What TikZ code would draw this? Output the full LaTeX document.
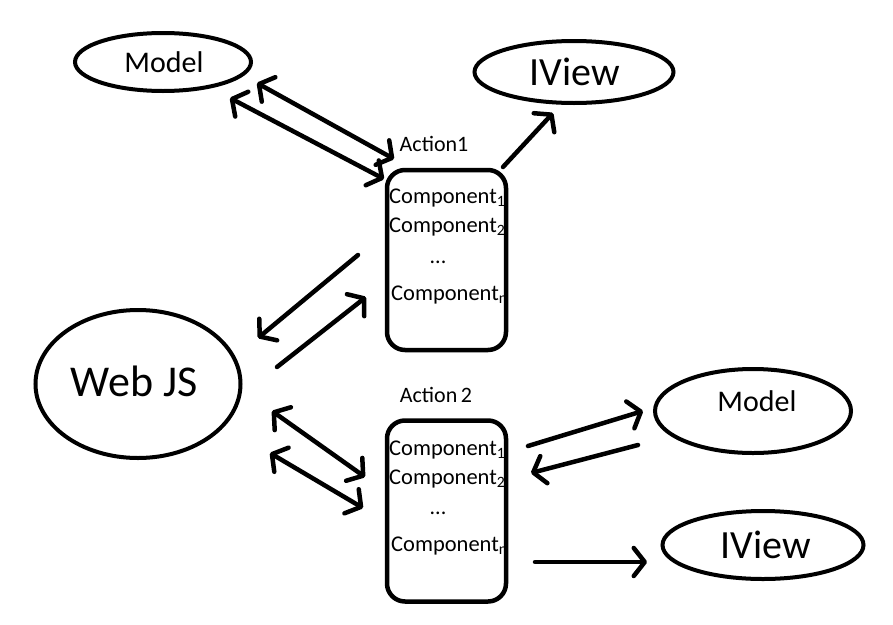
\documentclass[tikz,border=0pt]{standalone}
\usepackage{fontspec}
\setmainfont{Carlito}
\usetikzlibrary{shapes.geometric,arrows.meta}
\begin{document}
\begin{tikzpicture}[x=1pt,y=-1pt,
  ell/.style={draw,ellipse,line width=4pt,inner sep=0pt},
  box/.style={draw,line width=4.5pt,rounded corners=18pt,inner sep=0pt},
  lbl/.style={inner sep=0pt,font=\fontsize{#1}{#1}\selectfont},
  comp/.style={inner sep=0pt,anchor=west,font=\fontsize{22.5}{22.5}\selectfont},
  conn/.style={line width=4.5pt,line cap=round,
    arrows={-{Straight Barb[length=11pt,width=28pt,round]}}},
  dconn/.style={line width=4.5pt,line cap=round,
    arrows={{Straight Barb[length=11pt,width=28pt,round]}-{Straight Barb[length=11pt,width=28pt,round]}}}]
\useasboundingbox (0,0) rectangle (893,624);
\fill[white] (0,0) rectangle (893,624);
% ellipses
\node[ell,minimum width=176pt,minimum height=58pt] (model1) at (163,62) {};
\node[ell,minimum width=199pt,minimum height=62pt] (iview1) at (574,72) {};
\node[ell,minimum width=205pt,minimum height=148pt] (web) at (138,384) {};
\node[ell,minimum width=196pt,minimum height=84pt] (model2) at (753,411) {};
\node[ell,minimum width=201pt,minimum height=68pt] (iview2) at (763,545) {};
\node[lbl=30] (tmodel1) at (164,62) {Model};
\node[lbl=40] (tiview1) at (575,72) {IView};
\node[lbl=44] (tweb) at (134,381) {Web JS};
\node[lbl=30] (tmodel2) at (757,401) {Model};
\node[lbl=40] (tiview2) at (766,545) {IView};
% boxes
\node[box,minimum width=119pt,minimum height=180pt] (act1) at (446.5,260) {};
\node[box,minimum width=119pt,minimum height=181pt] (act2) at (446.5,511) {};
\node[lbl=22] (a1) at (434,144) {Action1};
\node[lbl=22] (a2) at (436,395) {Action\,2};
\node[comp] (c11) at (389,198) {Component\textsubscript{1}};
\node[comp] (c12) at (389,227) {Component\textsubscript{2}};
\node[lbl=22] (c13) at (438,262) {...};
\node[comp] (c14) at (391,295) {Component\textsubscript{n}};
\node[comp] (c21) at (389,450) {Component\textsubscript{1}};
\node[comp] (c22) at (389,479) {Component\textsubscript{2}};
\node[lbl=22] (c23) at (438,513) {...};
\node[comp] (c24) at (391,546) {Component\textsubscript{n}};
% connector end points
\coordinate (p1a) at (257,83);  \coordinate (p1b) at (394,159);
\coordinate (p2a) at (230,98);  \coordinate (p2b) at (384,179);
\coordinate (p3a) at (503,167); \coordinate (p3b) at (553,113);
\coordinate (p4a) at (358,255); \coordinate (p4b) at (258,338);
\coordinate (p5a) at (277,367); \coordinate (p5b) at (366,297);
\coordinate (p6a) at (272,411); \coordinate (p6b) at (365,477);
\coordinate (p7a) at (270,453); \coordinate (p7b) at (363,508);
\coordinate (p8a) at (528,446); \coordinate (p8b) at (643,411);
\coordinate (p9a) at (638,445); \coordinate (p9b) at (531,473);
\coordinate (p10a) at (535,562); \coordinate (p10b) at (647,562);
% connectors
\draw[dconn] (p1a) -- (p1b);
\draw[dconn] (p2a) -- (p2b);
\draw[conn] (p3a) -- (p3b);
\draw[conn] (p4a) -- (p4b);
\draw[conn] (p5a) -- (p5b);
\draw[dconn] (p6a) -- (p6b);
\draw[dconn] (p7a) -- (p7b);
\draw[conn] (p8a) -- (p8b);
\draw[conn] (p9a) -- (p9b);
\draw[conn] (p10a) -- (p10b);
\end{tikzpicture}
\end{document}
